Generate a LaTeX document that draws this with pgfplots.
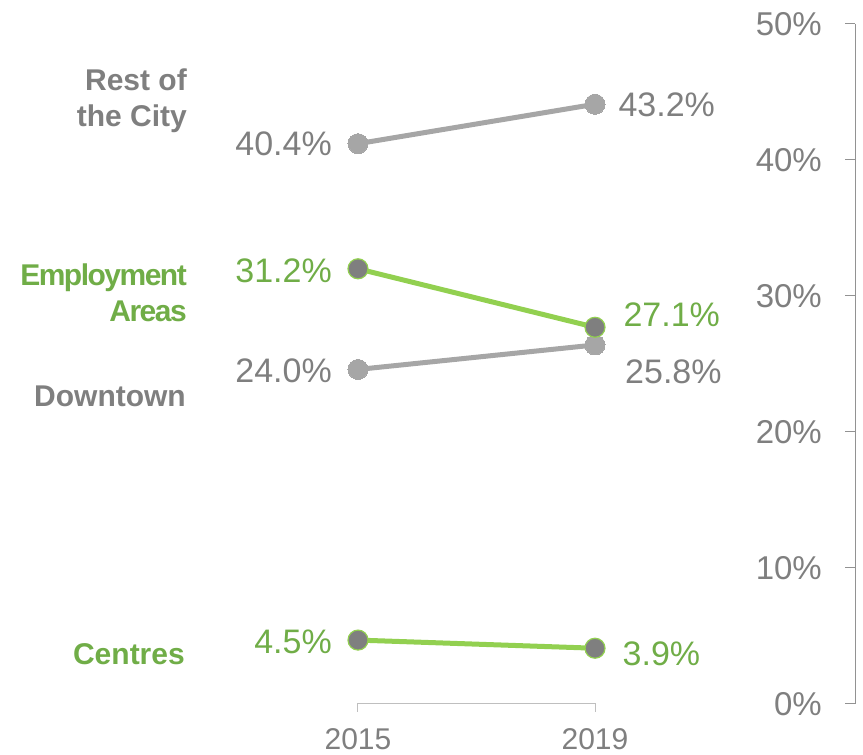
\documentclass[border=0pt]{standalone}
\usepackage{pgfplots}
\pgfplotsset{compat=1.18}
\usepackage{fontspec}
\setmainfont{Liberation Sans}
\newfontfamily\tightfont[LetterSpace=-5]{Liberation Sans}
\definecolor{lgray}{HTML}{A6A6A6}
\definecolor{tgray}{HTML}{7F7F7F}
\definecolor{lgreen}{HTML}{92D050}
\definecolor{tgreen}{HTML}{70AD47}
\definecolor{xgray}{HTML}{BFBFBF}
\newcommand\valfont{\fontsize{34}{40}\selectfont}
\newcommand\catfont{\fontsize{30}{36}\selectfont\bfseries}
\newcommand\tcatfont{\tightfont\fontsize{30}{36}\selectfont\bfseries}
\newcommand\tickfont{\fontsize{33}{40}\selectfont}
\newcommand\xtickfont{\fontsize{30}{36}\selectfont}
\begin{document}
\begin{tikzpicture}
\useasboundingbox (-358pt,-51pt) rectangle (505pt,704pt);
\begin{axis}[
  at={(0pt,0pt)}, anchor=south west,
  scale only axis, width=497pt, height=680pt,
  xmin=0, xmax=8.388, ymin=0, ymax=50,
  axis x line*=bottom, axis y line*=right,
  x axis line style={draw=none},
  y axis line style={draw=tgray!85, line width=1pt},
  tick align=inside, major tick length=10pt,
  xtick={0,4}, xticklabels={2015,2019},
  xtick style={draw=none},
  xticklabel style={font=\xtickfont, text=tgray, inner sep=0pt, anchor=north, yshift=-24pt},
  ytick={0,10,20,30,40,50},
  yticklabels={0\%,10\%,20\%,30\%,40\%,50\%},
  ytick style={draw=tgray!85, line width=1pt},
  yticklabel style={font=\tickfont, text=tgray, inner sep=0pt, anchor=east, xshift=-33pt},
  clip=false,
]
% Rest of the City
\addplot[lgray, line width=5pt, mark=*, mark size=10pt,
  mark options={fill=lgray, draw=lgray, line width=0pt}]
  coordinates {(0,41.2) (4,44.1)};
% Downtown
\addplot[lgray, line width=5pt, mark=*, mark size=10pt,
  mark options={fill=lgray, draw=lgray, line width=0pt}]
  coordinates {(0,24.6) (4,26.4)};
% Employment Areas
\addplot[lgreen, line width=5pt, mark=*, mark size=10pt,
  mark options={fill=tgray, draw=lgreen, line width=1.2pt}]
  coordinates {(0,32.0) (4,27.7)};
% Centres
\addplot[lgreen, line width=5pt, mark=*, mark size=10pt,
  mark options={fill=tgray, draw=lgreen, line width=1.2pt}]
  coordinates {(0,4.7) (4,4.1)};
% bottom axis segment
\draw[xgray, line width=1pt] (axis cs:0,0) ++(0,-8pt) -- (axis cs:0,0) -- (axis cs:4,0) -- ++(0,-8pt);
\end{axis}
% category labels
\node[anchor=base east, inner sep=0pt, text=tgray, font=\catfont] at (-171pt,613.3pt) {Rest of};
\node[anchor=base east, inner sep=0pt, text=tgray, font=\catfont] at (-171pt,577pt) {the City};
\node[anchor=base east, inner sep=0pt, text=tgreen, font=\tcatfont] at (-171pt,418pt) {Employment};
\node[anchor=base east, inner sep=0pt, text=tgreen, font=\tcatfont] at (-171pt,382.3pt) {Areas};
\node[anchor=base east, inner sep=0pt, text=tgray, font=\catfont] at (-172pt,297.3pt) {Downtown};
\node[anchor=base east, inner sep=0pt, text=tgreen, font=\catfont] at (-173pt,39pt) {Centres};
% 2015 values
\node[anchor=base east, inner sep=0pt, text=tgray, font=\valfont] at (-26pt,548.7pt) {40.4\%};
\node[anchor=base east, inner sep=0pt, text=tgreen, font=\valfont] at (-26pt,421.7pt) {31.2\%};
\node[anchor=base east, inner sep=0pt, text=tgray, font=\valfont] at (-26pt,321.7pt) {24.0\%};
\node[anchor=base east, inner sep=0pt, text=tgreen, font=\valfont] at (-26pt,50.7pt) {4.5\%};
% 2019 values
\node[anchor=base west, inner sep=0pt, text=tgray, font=\valfont] at (260.3pt,587.3pt) {43.2\%};
\node[anchor=base west, inner sep=0pt, text=tgreen, font=\valfont] at (265.3pt,377.3pt) {27.1\%};
\node[anchor=base west, inner sep=0pt, text=tgray, font=\valfont] at (267pt,320.7pt) {25.8\%};
\node[anchor=base west, inner sep=0pt, text=tgreen, font=\valfont] at (264.5pt,38pt) {3.9\%};
\end{tikzpicture}
\end{document}
